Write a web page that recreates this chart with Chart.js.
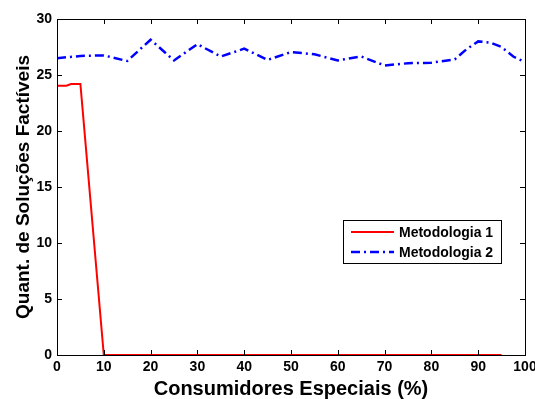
<!DOCTYPE html>
<html>
<head>
<meta charset="utf-8">
<script src="https://cdn.jsdelivr.net/npm/chart.js@4/dist/chart.umd.min.js"></script>
<style>
  html, body { margin: 0; padding: 0; background: #fff; }
  #wrap { width: 535px; height: 399px; }
</style>
</head>
<body>
<div id="wrap"><canvas id="chart"></canvas></div>
<script>
// values
const xMet1 = [0, 2, 3, 5, 10, 95];
const yMet1 = [24.05, 24.05, 24.2, 24.2, 0, 0];

const xMet2 = [0, 5, 10, 15, 20, 25, 30, 35, 40, 45, 50, 55, 60, 65, 70, 75, 80, 85, 87.5, 90, 92.5, 95, 97.5, 100];
const yMet2 = [26.5, 26.7, 26.75, 26.25, 28.15, 26.3, 27.75, 26.65, 27.35, 26.35, 27.05, 26.85, 26.3, 26.65, 25.85, 26.05, 26.1, 26.4, 27.3, 28.0, 27.9, 27.5, 26.65, 26.15];

const seriesNames = ['Metodologia 1', 'Metodologia 2'];
const xTitle = 'Consumidores Especiais (%)';
const yTitle = 'Quant. de Soluções Factíveis';

const FONT = '"Liberation Sans", Arial, sans-serif';

const toPoints = (xs, ys) => xs.map((x, i) => ({ x: x, y: ys[i] }));

// box around the plot with inward ticks on all four sides
const frame = {
    id: 'frame',
    afterDraw(chart) {
        const { ctx, chartArea: a, scales } = chart;
        const len = 5;
        ctx.save();
        ctx.strokeStyle = '#000';
        ctx.lineWidth = 1;
        ctx.beginPath();
        scales.x.ticks.forEach(t => {
            const px = Math.round(scales.x.getPixelForValue(t.value)) + 0.5;
            ctx.moveTo(px, a.bottom); ctx.lineTo(px, a.bottom - len);
            ctx.moveTo(px, a.top); ctx.lineTo(px, a.top + len);
        });
        scales.y.ticks.forEach(t => {
            const py = Math.round(scales.y.getPixelForValue(t.value)) + 0.5;
            ctx.moveTo(a.left, py); ctx.lineTo(a.left + len, py);
            ctx.moveTo(a.right, py); ctx.lineTo(a.right - len, py);
        });
        ctx.stroke();
        ctx.strokeRect(Math.round(a.left) + 0.5, Math.round(a.top) + 0.5,
            Math.round(a.right - a.left), Math.round(a.bottom - a.top));
        ctx.restore();
    }
};

// matlab style legend inside the plot
const boxLegend = {
    id: 'boxLegend',
    afterDraw(chart) {
        const { ctx, chartArea: a } = chart;
        const w = 158, h = 43;
        const x0 = a.right - 24 - w;
        const y0 = 220;
        ctx.save();
        ctx.fillStyle = '#fff';
        ctx.fillRect(x0, y0, w, h);
        ctx.strokeStyle = '#000';
        ctx.lineWidth = 1;
        ctx.strokeRect(x0 + 0.5, y0 + 0.5, w, h);
        ctx.font = 'bold 14px ' + FONT;
        ctx.textBaseline = 'middle';
        ctx.fillStyle = '#000';
        chart.data.datasets.forEach((ds, i) => {
            const yy = y0 + 12 + i * 20;
            ctx.beginPath();
            ctx.strokeStyle = ds.borderColor;
            ctx.lineWidth = ds.borderWidth;
            ctx.setLineDash(ds.borderDash || []);
            ctx.moveTo(x0 + 8, yy);
            ctx.lineTo(x0 + 51, yy);
            ctx.stroke();
            ctx.setLineDash([]);
            ctx.fillText(ds.label, x0 + 56, yy + 1);
        });
        ctx.restore();
    }
};

new Chart(document.getElementById('chart'), {
    type: 'line',
    data: {
        datasets: [
            {
                label: seriesNames[0],
                data: toPoints(xMet1, yMet1),
                borderColor: '#ff0000',
                borderWidth: 2,
                pointRadius: 0,
                fill: false,
                tension: 0
            },
            {
                label: seriesNames[1],
                data: toPoints(xMet2, yMet2),
                borderColor: '#0000ff',
                borderWidth: 2.5,
                borderDash: [9, 4, 2, 4],
                pointRadius: 0,
                fill: false,
                tension: 0
            }
        ]
    },
    options: {
        responsive: true,
        maintainAspectRatio: false,
        animation: false,
        layout: { padding: { top: 19, right: 10, bottom: 0, left: 0 } },
        plugins: {
            legend: { display: false },
            tooltip: { enabled: false }
        },
        scales: {
            x: {
                type: 'linear',
                min: 0,
                max: 100,
                grid: { display: false, drawTicks: false },
                border: { display: false },
                ticks: {
                    stepSize: 10,
                    padding: 4,
                    maxRotation: 0,
                    color: '#000',
                    font: { family: FONT, size: 14, weight: 'bold' }
                },
                title: {
                    display: true,
                    text: xTitle,
                    color: '#000',
                    padding: 0,
                    font: { family: FONT, size: 20, weight: 'bold', lineHeight: 1 }
                },
                afterFit(scale) {
                    scale.height = 44;
                    scale.paddingLeft = 0;
                    scale.paddingRight = 0;
                }
            },
            y: {
                min: 0,
                max: 30,
                grid: { display: false, drawTicks: false },
                border: { display: false },
                ticks: {
                    stepSize: 5,
                    padding: 5,
                    color: '#000',
                    font: { family: FONT, size: 14, weight: 'bold' }
                },
                title: {
                    display: true,
                    text: yTitle,
                    color: '#000',
                    padding: { top: 14, bottom: 0 },
                    font: { family: FONT, size: 19, weight: 'bold', lineHeight: 1 }
                },
                afterFit(scale) {
                    scale.width = 57;
                }
            }
        }
    },
    plugins: [frame, boxLegend]
});
</script>
</body>
</html>
